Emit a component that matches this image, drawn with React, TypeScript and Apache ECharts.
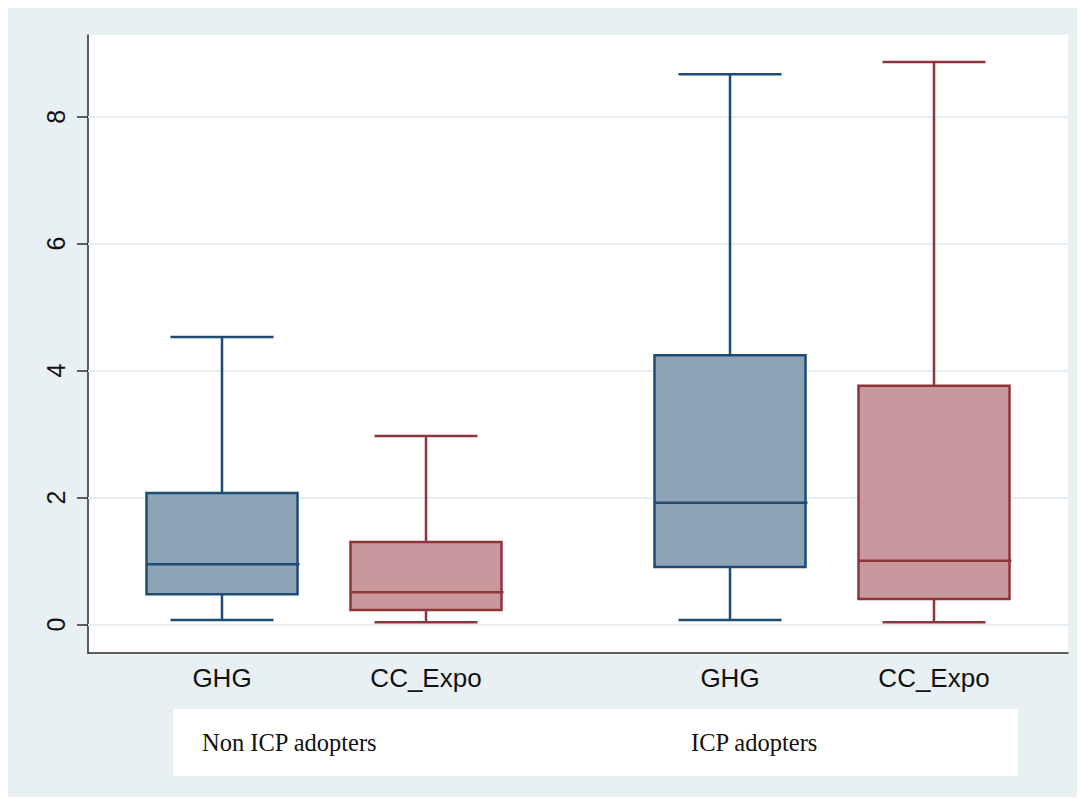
import React, { useEffect, useRef } from "react";
import * as echarts from "echarts";

// ---- data ----
const categories = ["GHG", "CC_Expo", "GHG", "CC_Expo"];
const groupLabels = ["Non ICP adopters", "ICP adopters"];
const lowerWhisker = [0.07, 0.035, 0.07, 0.035];
const q1 = [0.475, 0.23, 0.905, 0.4];
const median = [0.95, 0.51, 1.92, 1.005];
const q3 = [2.07, 1.3, 4.24, 3.76];
const upperWhisker = [4.53, 2.97, 8.67, 8.86];
const yTicks = [0, 2, 4, 6, 8];

// ---- layout ----
const positions = [1.34, 3.38, 6.42, 8.46];
const BOX_W = 1.51;
const CAP_W = 1.03;
const Y_MIN = -0.449;
const Y_MAX = 9.287;

const BLUE_LINE = "#1F4B73";
const BLUE_FILL = "#8CA3B8";
const RED_LINE = "#8F343B";
const RED_FILL = "#C8989C";

function buildSeriesData(idx: number[]) {
  return idx.map((i) => [positions[i], lowerWhisker[i], q1[i], median[i], q3[i], upperWhisker[i]]);
}

function makeRender(stroke: string, fill: string) {
  return (params: any, api: any) => {
    const x = api.value(0);
    const lo = api.coord([x, api.value(1)]);
    const b1 = api.coord([x, api.value(2)]);
    const md = api.coord([x, api.value(3)]);
    const b3 = api.coord([x, api.value(4)]);
    const hi = api.coord([x, api.value(5)]);
    const hb = api.size([BOX_W, 0])[0] / 2;
    const hc = api.size([CAP_W, 0])[0] / 2;
    const cx = lo[0];
    const ls = { stroke, lineWidth: 2.5 };
    return {
      type: "group",
      children: [
        { type: "line", shape: { x1: cx, y1: hi[1], x2: cx, y2: b3[1] }, style: ls },
        { type: "line", shape: { x1: cx, y1: b1[1], x2: cx, y2: lo[1] }, style: ls },
        { type: "line", shape: { x1: cx - hc, y1: hi[1], x2: cx + hc, y2: hi[1] }, style: ls },
        { type: "line", shape: { x1: cx - hc, y1: lo[1], x2: cx + hc, y2: lo[1] }, style: ls },
        {
          type: "rect",
          shape: { x: cx - hb, y: b3[1], width: hb * 2, height: b1[1] - b3[1] },
          style: { fill, stroke, lineWidth: 2.5 },
        },
        { type: "line", shape: { x1: cx - hb, y1: md[1], x2: cx + hb + 2, y2: md[1] }, style: ls },
      ],
    };
  };
}

export default function App() {
  const ref = useRef<HTMLDivElement>(null);
  useEffect(() => {
    if (!ref.current) return;
    const chart = echarts.init(ref.current, null, { renderer: "svg" });
    const option: any = {
      animation: false,
      backgroundColor: "#E9F0F3",
      grid: {
        left: 80,
        top: 27,
        width: 980,
        height: 618,
        show: true,
        backgroundColor: "#FFFFFF",
        borderWidth: 0,
      },
      xAxis: {
        type: "value",
        min: 0,
        max: 9.8,
        axisLine: { show: true, onZero: false, lineStyle: { color: "#2b2b2b", width: 1.5 } },
        axisTick: { show: false },
        splitLine: { show: false },
        axisLabel: {
          customValues: positions,
          formatter: (v: number) => {
            const i = positions.findIndex((p) => Math.abs(p - v) < 1e-6);
            return i >= 0 ? categories[i] : "";
          },
          fontFamily: "Liberation Sans, Arial, sans-serif",
          fontSize: 26,
          color: "#111",
          margin: 12,
        },
      },
      yAxis: {
        type: "value",
        min: Y_MIN,
        max: Y_MAX,
        axisLine: { show: true, onZero: false, lineStyle: { color: "#2b2b2b", width: 1.5 } },
        axisTick: { show: true, customValues: yTicks, length: 11, lineStyle: { color: "#2b2b2b", width: 1.5 } },
        splitLine: { show: false },
        axisLabel: {
          customValues: yTicks,
          rotate: 90,
          fontFamily: "Liberation Sans, Arial, sans-serif",
          fontSize: 25,
          color: "#111",
          margin: 20,
        },
      },
      series: [
        {
          type: "line",
          data: [],
          z: 1,
          silent: true,
          markLine: {
            silent: true,
            z: 1,
            symbol: "none",
            label: { show: false },
            lineStyle: { color: "#E6EEF1", width: 2, type: "solid" },
            data: yTicks.map((t) => ({ yAxis: t })),
          },
        },
        {
          type: "custom",
          name: "GHG",
          z: 3,
          renderItem: makeRender(BLUE_LINE, BLUE_FILL),
          encode: { x: 0, y: [1, 2, 3, 4, 5] },
          data: buildSeriesData([0, 2]),
        },
        {
          type: "custom",
          name: "CC_Expo",
          z: 3,
          renderItem: makeRender(RED_LINE, RED_FILL),
          encode: { x: 0, y: [1, 2, 3, 4, 5] },
          data: buildSeriesData([1, 3]),
        },
      ],
      graphic: [
        {
          type: "rect",
          shape: { x: 165, y: 701, width: 845, height: 67 },
          style: { fill: "#FFFFFF" },
          z: 0,
        },
        {
          type: "text",
          x: 194,
          y: 734,
          style: {
            text: groupLabels[0],
            font: '24.5px "Liberation Serif", "Times New Roman", serif',
            fill: "#111",
            verticalAlign: "middle",
            textAlign: "left",
          },
          z: 1,
        },
        {
          type: "text",
          x: 683,
          y: 734,
          style: {
            text: groupLabels[1],
            font: '24.5px "Liberation Serif", "Times New Roman", serif',
            fill: "#111",
            verticalAlign: "middle",
            textAlign: "left",
          },
          z: 1,
        },
      ],
    };
    chart.setOption(option);
    return () => chart.dispose();
  }, []);
  return <div ref={ref} style={{ width: 1077, height: 789 }} />;
}
